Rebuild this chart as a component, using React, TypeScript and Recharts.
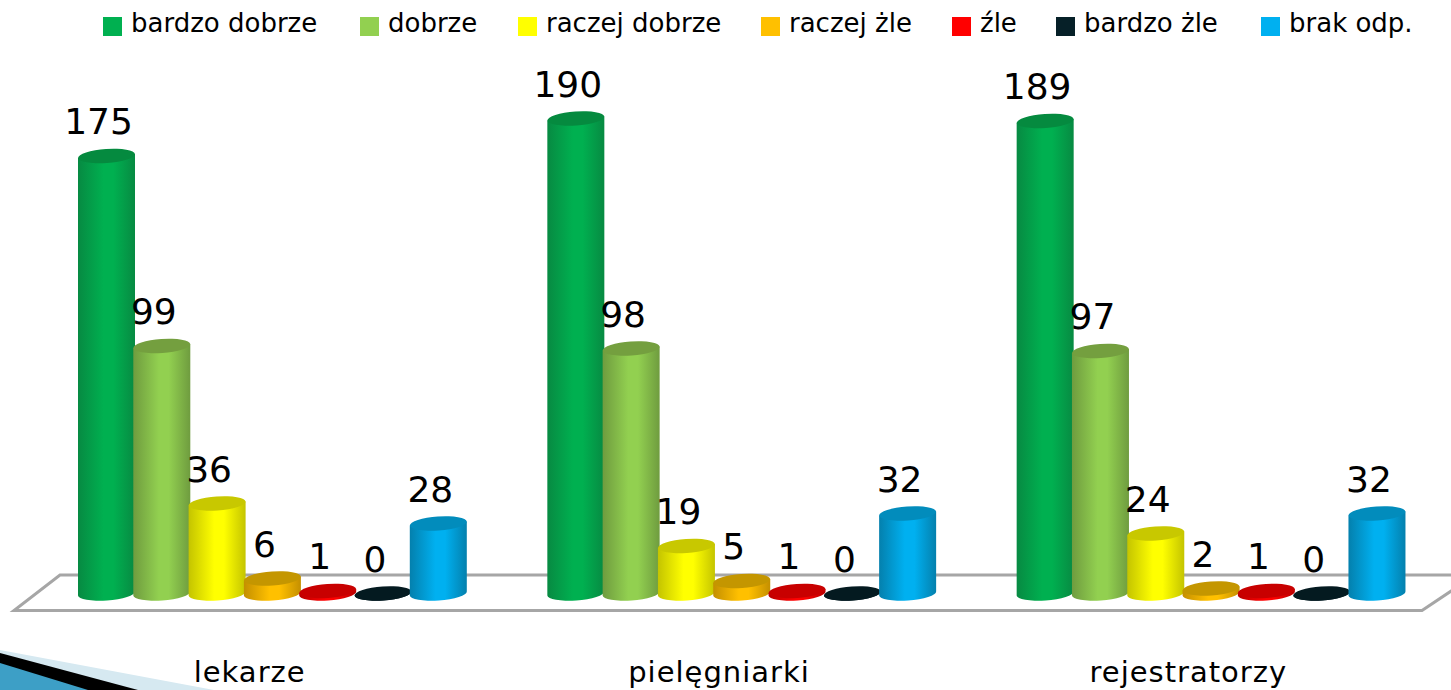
import React from "react";
import { BarChart, Bar, XAxis, YAxis, Legend, LabelList, Customized } from "recharts";

const categories = ["lekarze", "pielęgniarki", "rejestratorzy"];

const seriesNames = ["bardzo dobrze", "dobrze", "raczej dobrze", "raczej żle", "źle", "bardzo żle", "brak odp."];

const bardzoDobrze = [175, 190, 189];
const dobrze = [99, 98, 97];
const raczejDobrze = [36, 19, 24];
const raczejZle = [6, 5, 2];
const zle = [1, 1, 1];
const bardzoZle = [0, 0, 0];
const brakOdp = [28, 32, 32];

const seriesValues = [bardzoDobrze, dobrze, raczejDobrze, raczejZle, zle, bardzoZle, brakOdp];

// main colour, darker edge of the cylinder, colour of the top lid
const fills = ["#00B050", "#92D050", "#FFFF00", "#FFC000", "#FF0000", "#062028", "#00B0F0"];
const edges = ["#078a42", "#6f9c3f", "#c4c400", "#c48f00", "#b80000", "#041a20", "#0480ad"];
const lids = ["#058a3f", "#749f3f", "#c8c800", "#c49600", "#c80000", "#041a20", "#028cbc"];

const legendX = [103, 360, 518, 761, 952, 1056, 1261];

const data = categories.map((name, i) => {
  const row: Record<string, any> = { name };
  seriesNames.forEach((s, k) => {
    row[s] = seriesValues[k][i];
  });
  return row;
});

const FONT = "'DejaVu Sans', sans-serif";
const RY = 7;
const TILT = -4;

// bar drawn as a tilted cylinder
const Cylinder = (props: any) => {
  const { seriesIndex } = props;
  const x = Number(props.x);
  const y = Number(props.y);
  const width = Number(props.width);
  const height = Number(props.height);
  const cx = x + width / 2;
  const rx = width / 2;
  const bottom = y + height;
  const dy = rx * Math.sin((TILT * Math.PI) / 180);
  const body =
    `M${x},${y - dy} L${x},${bottom - dy} ` +
    `A${rx},${RY} ${TILT} 0 0 ${x + width},${bottom + dy} ` +
    `L${x + width},${y + dy} Z`;
  return (
    <g>
      <path d={body} fill={`url(#cyl${seriesIndex})`} />
      <ellipse
        cx={cx}
        cy={y}
        rx={rx}
        ry={RY}
        fill={lids[seriesIndex]}
        transform={`rotate(${TILT} ${cx} ${y})`}
      />
    </g>
  );
};

// floor of the 3d plot and the slide's corner decoration
const Backdrop = () => (
  <g>
    <polygon
      points="60,575 1475,575 1422,610.5 14,610.5"
      fill="#fff"
      stroke="#a6a6a6"
      strokeWidth={3}
    />
    <polygon points="0,650 214,690 0,690" fill="#d6e9f1" />
    <polygon points="0,653 138,690 0,690" fill="#000" />
    <polygon points="0,663 88,690 0,690" fill="#3d9fc6" />
  </g>
);

const LegendRow = ({ payload }: any) => (
  <div style={{ position: "absolute", left: 0, top: 0, width: 1451, height: 50, fontFamily: FONT, fontSize: 26, color: "#000", textAlign: "left" }}>
    {(payload || []).map((p: any, i: number) => (
      <div key={p.value} style={{ position: "absolute", left: legendX[i], top: 8, whiteSpace: "nowrap" }}>
        <span style={{ position: "absolute", left: 0, top: 9, width: 19, height: 19, background: p.color }} />
        <span style={{ marginLeft: 28 }}>{p.value}</span>
      </div>
    ))}
  </div>
);

export default function App() {
  return (
    <div style={{ position: "absolute", left: 0, top: 0, width: 1451, height: 690, overflow: "hidden", background: "#fff" }}>
      <BarChart
        width={1451}
        height={690}
        data={data}
        margin={{ top: 93.5, right: 5, bottom: 0, left: 38 }}
        barSize={57}
        barGap={-1.7}
      >
        <defs>
          {fills.map((c, i) => (
            <linearGradient key={c} id={`cyl${i}`} x1="0" y1="0" x2="1" y2="0">
              <stop offset="0%" stopColor={edges[i]} />
              <stop offset="45%" stopColor={c} />
              <stop offset="62%" stopColor={c} />
              <stop offset="100%" stopColor={edges[i]} />
            </linearGradient>
          ))}
        </defs>
        <Customized component={Backdrop} />
        <XAxis
          dataKey="name"
          axisLine={false}
          tickLine={false}
          height={96.5}
          interval={0}
          tickMargin={62}
          tick={{ fontFamily: FONT, fontSize: 29, letterSpacing: 1, fill: "#000", dx: -23 }}
        />
        <YAxis hide domain={[0, 200]} />
        <Legend
          content={<LegendRow />}
          verticalAlign="top"
          itemSorter={null}
          wrapperStyle={{ left: 0, top: 0, width: 1451, height: 0 }}
        />
        {seriesNames.map((s, i) => (
          <Bar
            key={s}
            dataKey={s}
            fill={fills[i]}
            isAnimationActive={false}
            shape={(p: any) => <Cylinder {...p} seriesIndex={i} />}
          >
            <LabelList
              dataKey={s}
              position="top"
              offset={22}
              dx={-8}
              fontFamily={FONT}
              fontSize={36}
              fill="#000"
            />
          </Bar>
        ))}
      </BarChart>
    </div>
  );
}
